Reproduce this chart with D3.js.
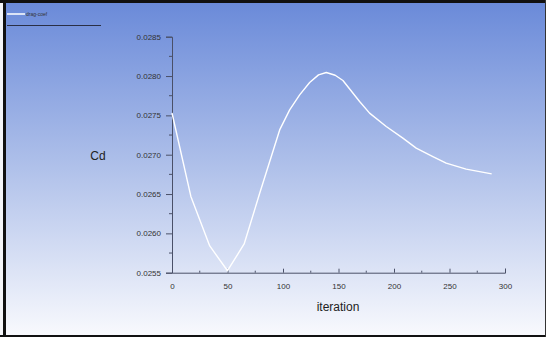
<!DOCTYPE html>
<html><head><meta charset="utf-8">
<script src="https://cdn.jsdelivr.net/npm/d3@7"></script>
<style>html,body{margin:0;padding:0;background:#fff;}svg{display:block;}</style>
</head><body>
<script>
const iterations = [0, 17, 34, 50, 65, 79, 97, 106, 115, 124, 132, 139, 147, 154, 169, 178, 193, 208, 220, 235, 247, 265, 288];
const cdValues = [0.02753, 0.02647, 0.02584, 0.025525, 0.025865, 0.02651, 0.027315, 0.02757, 0.02776, 0.027917, 0.028015, 0.028045, 0.02801, 0.027943, 0.027676, 0.027528, 0.027358, 0.02721, 0.027083, 0.026976, 0.026892, 0.026816, 0.026756];
const xTicks = [0, 50, 100, 150, 200, 250, 300];
const yTicks = [0.0255, 0.0260, 0.0265, 0.0270, 0.0275, 0.0280, 0.0285];
const seriesName = "drag-coef";
const xTitle = "iteration";
const yTitle = "Cd";

const W = 546, H = 337;
const svg = d3.select("body").append("svg").attr("width", W).attr("height", H);
const defs = svg.append("defs");
const grad = defs.append("linearGradient").attr("id","bg").attr("x1",0).attr("y1",0).attr("x2",0).attr("y2",1);
grad.append("stop").attr("offset","0%").attr("stop-color","#6a8ad9");
grad.append("stop").attr("offset","50%").attr("stop-color","#b0c1ea");
grad.append("stop").attr("offset","100%").attr("stop-color","#f8f9fd");

svg.append("rect").attr("x",0).attr("y",0).attr("width",W).attr("height",H).attr("fill","#f4f5f8");
svg.append("rect").attr("x",5).attr("y",2).attr("width",W-6).attr("height",H-4).attr("fill","url(#bg)");
// frame
svg.append("rect").attr("x",0).attr("y",0).attr("width",W).attr("height",3).attr("fill","#111");
svg.append("rect").attr("x",3).attr("y",0).attr("width",3).attr("height",H).attr("fill","#111");
svg.append("rect").attr("x",0).attr("y",H-2).attr("width",W).attr("height",2).attr("fill","#111");
svg.append("rect").attr("x",W-1).attr("y",0).attr("width",1).attr("height",H).attr("fill","#333");

const x = d3.scaleLinear().domain([0,300]).range([172,505]);
const y = d3.scaleLinear().domain([0.0255,0.0285]).range([272.7,36.7]);

const axisColor = "#4a5068";
const tickFont = "'Liberation Sans Narrow','Liberation Sans',Arial,sans-serif";

// Y axis
const gy = svg.append("g").attr("transform","translate(172,0)")
  .call(d3.axisLeft(y).tickValues(yTicks).tickFormat(d3.format(".4f")).tickSize(6).tickPadding(5));
gy.selectAll(".tick text").attr("font-family",tickFont).attr("font-size",8).attr("fill","#333");
// minor y ticks
const yMinor = yTicks.slice(0,-1).map((d,i)=> (d + yTicks[i+1]) / 2);
svg.append("g").selectAll("line").data(yMinor).join("line")
  .attr("x1",169).attr("x2",172).attr("y1",d=>y(d)).attr("y2",d=>y(d)).attr("stroke",axisColor);

// X axis
const gx = svg.append("g").attr("transform","translate(0,272.7)")
  .call(d3.axisBottom(x).tickValues(xTicks).tickFormat(d3.format("d")).tickSize(-4).tickPadding(11));
gx.selectAll(".tick text").attr("font-family",tickFont).attr("font-size",8).attr("fill","#333");
const xMinor = xTicks.slice(0,-1).map((d,i)=> (d + xTicks[i+1]) / 2);
svg.append("g").selectAll("line").data(xMinor).join("line")
  .attr("x1",d=>x(d)).attr("x2",d=>x(d)).attr("y1",270.7).attr("y2",272.7).attr("stroke",axisColor);

[gx, gy].forEach(g=>{
  g.select(".domain").attr("stroke",axisColor);
  g.selectAll(".tick line").attr("stroke",axisColor);
});

// titles
svg.append("text").attr("x",338).attr("y",311).attr("text-anchor","middle")
  .attr("font-family","'Liberation Sans',Arial,sans-serif").attr("font-size",12).attr("fill","#222").text(xTitle);
svg.append("text").attr("x",98).attr("y",160).attr("text-anchor","middle")
  .attr("font-family","'Liberation Sans',Arial,sans-serif").attr("font-size",12).attr("fill","#222").text(yTitle);

// line
const line = d3.line().x((d,i)=>x(iterations[i])).y(d=>y(d));
svg.append("path").datum(cdValues).attr("d",line).attr("fill","none")
  .attr("stroke","#ffffff").attr("stroke-width",1.4).attr("stroke-linejoin","round");

// legend
svg.append("line").attr("x1",7).attr("x2",25).attr("y1",14).attr("y2",14).attr("stroke","#fff").attr("stroke-width",1.5);
svg.append("text").attr("x",26).attr("y",16).attr("font-family",tickFont).attr("font-size",5).attr("fill","#333").text(seriesName);
svg.append("line").attr("x1",7).attr("x2",101).attr("y1",25.5).attr("y2",25.5).attr("stroke","#2a2f45").attr("stroke-width",1);
</script>
</body></html>
